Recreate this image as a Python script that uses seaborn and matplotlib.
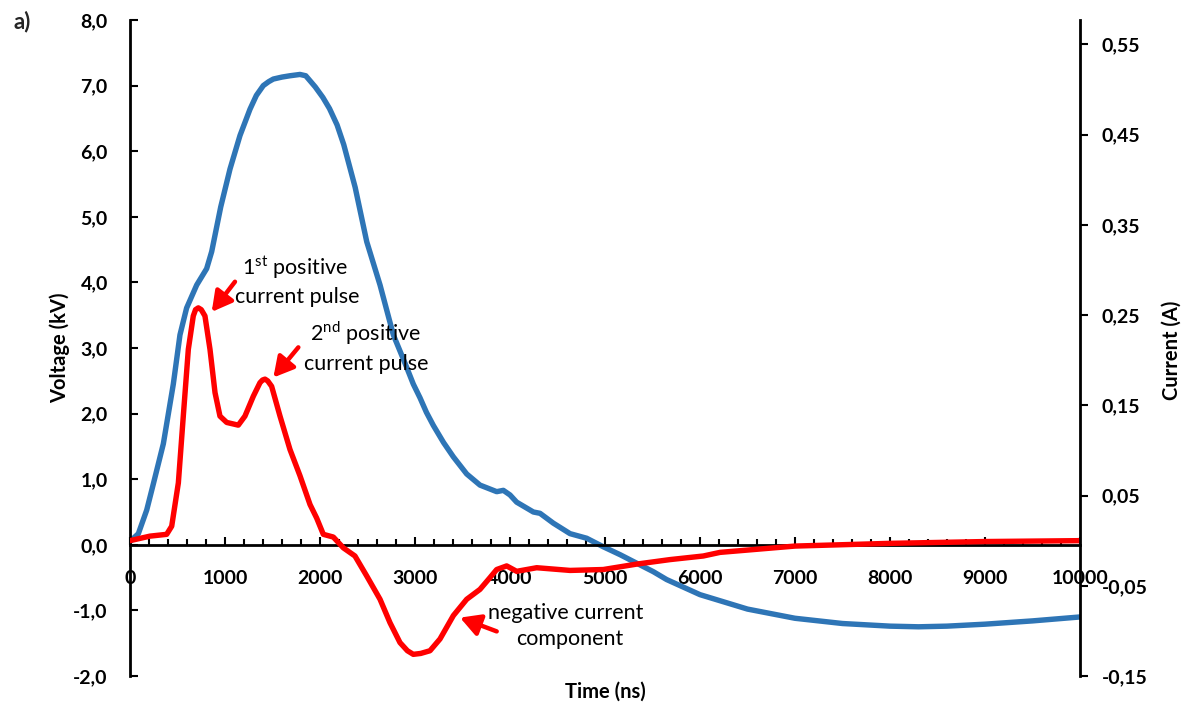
import matplotlib
matplotlib.use("Agg")
import matplotlib.pyplot as plt
import seaborn as sns
from matplotlib.ticker import MultipleLocator

# ---------------- data ----------------
time_v = [0, 88, 176, 246, 351, 456, 526, 596, 702, 807, 860, 955, 1053, 1158, 1263, 1330,
          1403, 1460, 1509, 1600, 1684, 1789, 1850, 1950, 2030, 2100, 2180, 2250, 2370,
          2492, 2632, 2772, 2900, 2982, 3053, 3120, 3193, 3300, 3404, 3544, 3684, 3860,
          3930, 4000, 4070, 4246, 4316, 4456, 4632, 4807, 4982, 5158, 5333, 5509, 5649,
          6000, 6500, 7000, 7500, 8000, 8300, 8600, 9000, 9500, 10000]
voltage_kv = [0.05, 0.17, 0.53, 0.93, 1.54, 2.45, 3.20, 3.61, 3.96, 4.21, 4.47, 5.15, 5.73,
              6.24, 6.64, 6.85, 7.00, 7.06, 7.10, 7.13, 7.15, 7.17, 7.15, 6.98, 6.82, 6.65,
              6.40, 6.10, 5.45, 4.62, 3.96, 3.20, 2.75, 2.45, 2.24, 2.02, 1.82, 1.56, 1.34,
              1.08, 0.91, 0.81, 0.83, 0.76, 0.65, 0.50, 0.48, 0.33, 0.17, 0.10, -0.03,
              -0.15, -0.28, -0.41, -0.53, -0.76, -0.98, -1.12, -1.20, -1.24, -1.25, -1.24,
              -1.21, -1.16, -1.10]

time_i = [0, 210, 386, 439, 509, 561, 614, 666, 690, 719, 750, 789, 842, 895, 947, 1018,
          1140, 1210, 1298, 1368, 1395, 1421, 1450, 1491, 1579, 1684, 1789, 1895, 1965,
          2035, 2140, 2193, 2246, 2368, 2491, 2632, 2737, 2842, 2920, 2982, 3060, 3158,
          3263, 3404, 3544, 3684, 3789, 3860, 3965, 4070, 4281, 4632, 4982, 5333, 5684,
          6035, 6211, 7000, 8000, 9000, 10000]
current_a = [0.000, 0.005, 0.007, 0.016, 0.064, 0.138, 0.212, 0.249, 0.256, 0.258, 0.256,
             0.249, 0.212, 0.164, 0.138, 0.131, 0.128, 0.138, 0.160, 0.175, 0.178, 0.179,
             0.177, 0.171, 0.138, 0.101, 0.072, 0.040, 0.025, 0.007, 0.004, -0.002, -0.008,
             -0.017, -0.039, -0.065, -0.091, -0.113, -0.122, -0.126, -0.125, -0.122,
             -0.109, -0.083, -0.065, -0.054, -0.041, -0.032, -0.028, -0.034, -0.030,
             -0.033, -0.032, -0.026, -0.021, -0.017, -0.013, -0.006, -0.003, -0.001, 0.000]

time_ticks = [0, 1000, 2000, 3000, 4000, 5000, 6000, 7000, 8000, 9000, 10000]
volt_ticks = [-2.0, -1.0, 0.0, 1.0, 2.0, 3.0, 4.0, 5.0, 6.0, 7.0, 8.0]
curr_ticks = [-0.15, -0.05, 0.05, 0.15, 0.25, 0.35, 0.45, 0.55]

# ---------------- style ----------------
sns.set_style("white")
plt.rcParams['font.family'] = ['Lato', 'DejaVu Sans']

W, H = 1192, 711
fig = plt.figure(figsize=(W / 100, H / 100), dpi=100)
ax1 = fig.add_axes([130 / W, 35 / H, 950 / W, 656 / H])
ax2 = ax1.twinx()

sns.lineplot(x=time_v, y=voltage_kv, ax=ax1, color='#2E75B6', linewidth=3.9,
             sort=False, estimator=None)
sns.lineplot(x=time_i, y=current_a, ax=ax2, color='#FF0000', linewidth=3.9,
             sort=False, estimator=None)

ax1.set_xlim(0, 10000)
ax1.set_ylim(-2, 8)
ax2.set_ylim(-0.15, 0.577)

for ax in (ax1, ax2):
    ax.set_xlabel('')
    ax.set_ylabel('')
    ax.grid(False)
    for s in ax.spines.values():
        s.set_color('black')
        s.set_linewidth(2.0)

ax1.spines['top'].set_visible(False)
ax1.spines['right'].set_visible(False)
ax1.spines['bottom'].set_position(('data', 0))
ax2.spines['top'].set_visible(False)
ax2.spines['left'].set_visible(False)
ax2.spines['bottom'].set_visible(False)

tick_kw = dict(fontweight='bold', fontsize=14)
ax1.set_xticks(time_ticks, labels=[str(t) for t in time_ticks], **tick_kw)
ax1.xaxis.set_minor_locator(MultipleLocator(200))
ax1.set_yticks(volt_ticks, labels=[f"{v:.1f}".replace('.', ',') for v in volt_ticks], **tick_kw)
ax2.set_yticks(curr_ticks, labels=[f"{v:.2f}".replace('.', ',') for v in curr_ticks], **tick_kw)

ax1.tick_params(axis='x', which='major', direction='in', length=5.5, width=1.5, pad=18,
                colors='black', bottom=True)
ax1.tick_params(axis='x', which='minor', direction='in', length=4, width=1.5, bottom=True,
                colors='black')
ax1.tick_params(axis='y', which='major', direction='in', length=5.5, width=1.5, pad=16,
                colors='black', left=True)
ax2.tick_params(axis='y', which='major', direction='out', length=5.5, width=1.5, pad=10,
                colors='black', right=True)

# axis titles and panel letter
lab_kw = dict(fontweight='bold', fontsize=14.5, color='black')
fig.text(60 / W, 1 - 348 / H, 'Voltage (kV)', rotation=90, ha='center', va='center', **lab_kw)
fig.text(1172 / W, 1 - 350 / H, 'Current (A)', rotation=90, ha='center', va='center', **lab_kw)
fig.text(605 / W, 1 - 692 / H, 'Time (ns)', ha='center', va='center', **lab_kw)
fig.text(22 / W, 1 - 22 / H, 'a)', ha='center', va='center', fontweight='bold', fontsize=16)

# annotations
arrow_kw = dict(arrowstyle='-|>,head_length=0.6,head_width=0.33', color='#FF0000', lw=3.2,
                shrinkA=0, shrinkB=0, mutation_scale=20)
txt_kw = dict(ha='center', va='baseline', fontsize=15.5, color='black')

ax1.annotate('', xy=(860, 3.55), xytext=(1105, 4.01), arrowprops=arrow_kw)
ax1.text(1737, 4.11, r'1$^{\mathregular{st}}$ positive', **txt_kw)
ax1.text(1758, 3.69, 'current pulse', **txt_kw)

ax1.annotate('', xy=(1509, 2.55), xytext=(1772, 3.01), arrowprops=arrow_kw)
ax1.text(2474, 3.10, r'2$^{\mathregular{nd}}$ positive', **txt_kw)
ax1.text(2484, 2.67, 'current pulse', **txt_kw)

ax1.annotate('', xy=(3474, -1.11), xytext=(3860, -1.32), arrowprops=arrow_kw)
ax1.text(4589, -1.13, 'negative current', **txt_kw)
ax1.text(4632, -1.53, 'component', **txt_kw)

fig.savefig('out.png', dpi=100)
